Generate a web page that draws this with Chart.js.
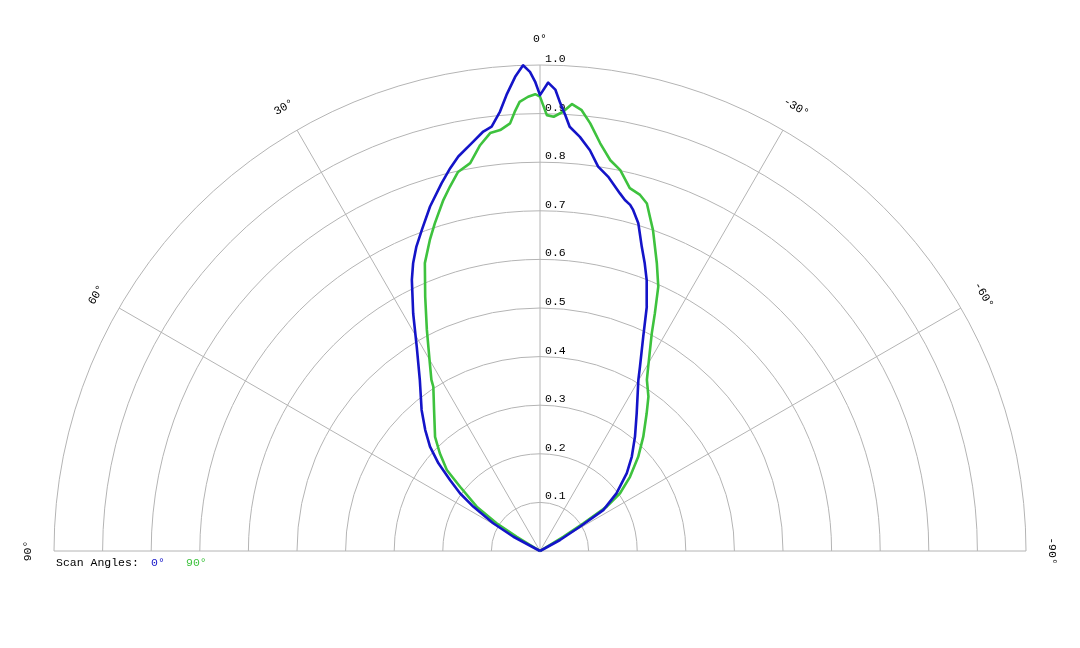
<!DOCTYPE html>
<html>
<head>
<meta charset="utf-8">
<script src="https://cdn.jsdelivr.net/npm/chart.js@4/dist/chart.umd.min.js"></script>
<style>
  html, body { margin: 0; padding: 0; background: #ffffff; }
  #wrap { width: 1080px; height: 648px; }
</style>
</head>
<body>
<div id="wrap"><canvas id="c" width="1080" height="648"></canvas></div>
<script>
// Polar angle in degrees (positive = left of 0°), relative intensity
const blueAngles = [-90, -66, -61.2, -58.7, -57.1, -53.0, -48.1, -44.2, -39.7, -35.1, -29.9, -28.5, -25.7, -23.6, -21.5, -20.0, -18.5, -16.7, -15.3, -14.6, -13.6, -12.6, -10.3, -8.6, -7.1, -5.5, -4.0, -3.3, -2.6, -1.9, -1.0, 0.0, 0.6, 1.2, 2.0, 3.0, 4.2, 5.2, 6.5, 7.7, 9.5, 11.7, 13.2, 15.0, 17.7, 20.2, 22.1, 23.8, 25.3, 28.1, 31.1, 35.1, 40.0, 43.5, 46.5, 49.2, 51.7, 54.2, 56.4, 59.3, 61.8, 66, 90];
const blueValues = [0, 0, 0.047, 0.096, 0.155, 0.197, 0.240, 0.271, 0.306, 0.346, 0.406, 0.431, 0.490, 0.549, 0.599, 0.630, 0.660, 0.704, 0.727, 0.736, 0.743, 0.754, 0.783, 0.800, 0.831, 0.856, 0.875, 0.899, 0.922, 0.950, 0.964, 0.938, 0.966, 0.986, 1.000, 0.977, 0.941, 0.908, 0.879, 0.871, 0.851, 0.829, 0.809, 0.783, 0.744, 0.704, 0.676, 0.647, 0.617, 0.554, 0.491, 0.430, 0.379, 0.343, 0.312, 0.276, 0.236, 0.203, 0.165, 0.112, 0.062, 0, 0];

const greenAngles = [-90, -64, -58.5, -57.4, -56.4, -54.2, -50.5, -46.2, -42.1, -37.8, -35.1, -32.0, -30.4, -27.2, -25.8, -24.1, -22.1, -19.4, -18.2, -17.1, -15.7, -13.9, -11.9, -10.2, -8.4, -6.7, -5.4, -4.1, -3.0, -1.8, -0.9, 0.0, 0.6, 1.5, 2.6, 3.3, 4.0, 5.4, 6.8, 8.4, 10.2, 12.2, 13.9, 15.4, 17.8, 19.5, 21.8, 24.3, 27.1, 30.4, 32.4, 33.0, 36.9, 42.6, 45.7, 49.0, 51.2, 55.0, 57.4, 58.5, 64, 90];
const greenValues = [0, 0, 0.056, 0.106, 0.165, 0.203, 0.240, 0.280, 0.317, 0.358, 0.388, 0.415, 0.440, 0.503, 0.543, 0.596, 0.639, 0.700, 0.724, 0.748, 0.761, 0.769, 0.801, 0.817, 0.848, 0.886, 0.911, 0.922, 0.905, 0.894, 0.897, 0.935, 0.940, 0.935, 0.925, 0.905, 0.882, 0.870, 0.866, 0.844, 0.811, 0.798, 0.772, 0.749, 0.708, 0.679, 0.638, 0.574, 0.511, 0.448, 0.417, 0.403, 0.363, 0.319, 0.288, 0.254, 0.211, 0.159, 0.106, 0.056, 0, 0];

const ringTicks = [0.1, 0.2, 0.3, 0.4, 0.5, 0.6, 0.7, 0.8, 0.9, 1.0];
const ringLabels = ["0.1", "0.2", "0.3", "0.4", "0.5", "0.6", "0.7", "0.8", "0.9", "1.0"];
const angleTicks = [90, 60, 30, 0, -30, -60, -90];
const angleLabels = ["90°", "60°", "30°", "0°", "-30°", "-60°", "-90°"];

const legendTitle = "Scan Angles:";
const seriesNames = ["0°", "90°"];
const seriesColors = ["#1414c8", "#3ec23e"];

function toXY(angles, values) {
  return angles.map((a, i) => {
    const t = a * Math.PI / 180;
    return { x: -values[i] * Math.sin(t), y: values[i] * Math.cos(t) };
  });
}

const FONT = "11.5px 'Liberation Mono', 'Courier New', monospace";

const polarGrid = {
  id: 'polarGrid',
  beforeDatasetsDraw(chart) {
    const ctx = chart.ctx;
    const xs = chart.scales.x, ys = chart.scales.y;
    const cx = xs.getPixelForValue(0);
    const cy = ys.getPixelForValue(0);
    const R = xs.getPixelForValue(1) - cx;
    ctx.save();
    ctx.strokeStyle = '#b4b4b4';
    ctx.lineWidth = 1;
    ringTicks.forEach(r => {
      ctx.beginPath();
      ctx.arc(cx, cy, r * R, Math.PI, 2 * Math.PI);
      ctx.stroke();
    });
    angleTicks.forEach(a => {
      const t = a * Math.PI / 180;
      ctx.beginPath();
      ctx.moveTo(cx, cy);
      ctx.lineTo(cx - R * Math.sin(t), cy - R * Math.cos(t));
      ctx.stroke();
    });
    ctx.font = FONT;
    ctx.fillStyle = '#000000';
    ctx.textAlign = 'left';
    ctx.textBaseline = 'middle';
    ringTicks.forEach((r, i) => {
      ctx.fillText(ringLabels[i], cx + 5, ys.getPixelForValue(r) - 6);
    });
    const LR = R * 1.054;
    angleTicks.forEach((a, i) => {
      const t = a * Math.PI / 180;
      ctx.save();
      ctx.translate(cx - LR * Math.sin(t), cy - LR * Math.cos(t));
      ctx.rotate(-t);
      ctx.textAlign = 'center';
      ctx.textBaseline = 'middle';
      ctx.fillText(angleLabels[i], 0, 0);
      ctx.restore();
    });
    // legend
    ctx.textAlign = 'left';
    ctx.textBaseline = 'middle';
    ctx.fillStyle = '#000000';
    ctx.fillText(legendTitle, 56, 563);
    ctx.fillStyle = seriesColors[0];
    ctx.fillText(seriesNames[0], 151, 563);
    ctx.fillStyle = seriesColors[1];
    ctx.fillText(seriesNames[1], 186, 563);
    ctx.restore();
  }
};

new Chart(document.getElementById('c'), {
  type: 'scatter',
  data: {
    datasets: [
      { label: seriesNames[0], data: toXY(blueAngles, blueValues), showLine: true, borderColor: seriesColors[0], borderWidth: 2.6, pointRadius: 0, tension: 0, clip: false, borderJoinStyle: 'round' },
      { label: seriesNames[1], data: toXY(greenAngles, greenValues), showLine: true, borderColor: seriesColors[1], borderWidth: 2.6, pointRadius: 0, tension: 0, clip: false, borderJoinStyle: 'round' }
    ]
  },
  options: {
    responsive: false,
    animation: false,
    devicePixelRatio: 1,
    layout: { padding: { left: 54, right: 54, top: 65, bottom: 97 } },
    scales: {
      x: { type: 'linear', min: -1, max: 1, display: false },
      y: { type: 'linear', min: 0, max: 1, display: false }
    },
    plugins: { legend: { display: false }, tooltip: { enabled: false } }
  },
  plugins: [polarGrid]
});
</script>
</body>
</html>
